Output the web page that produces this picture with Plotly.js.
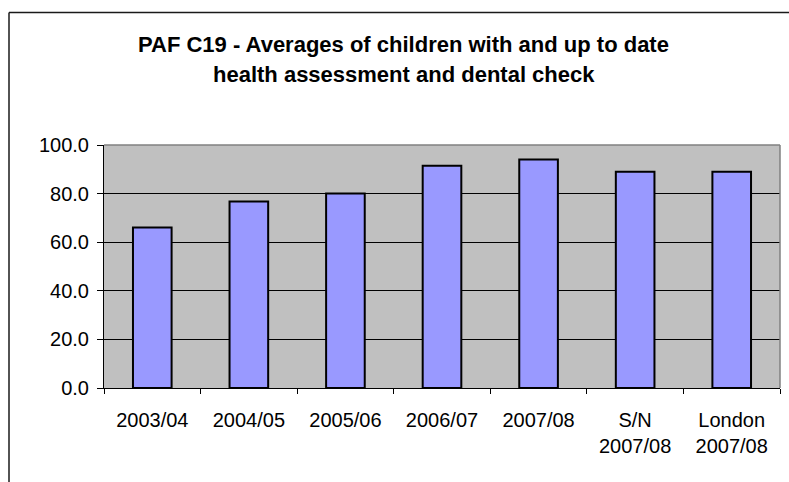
<!DOCTYPE html>
<html>
<head>
<meta charset="utf-8">
<script src="https://cdn.plot.ly/plotly-3.0.1.min.js"></script>
<style>html,body{margin:0;padding:0;background:#fff;}#chart{width:789px;height:482px;}</style>
</head>
<body>
<div id="chart"></div>
<script>
const categories = ["2003/04", "2004/05", "2005/06", "2006/07", "2007/08", "S/N<br>2007/08", "London<br>2007/08"];
const values = [66.0, 76.7, 80.0, 91.5, 94.0, 89.0, 89.0];
const yTickValues = [0, 20, 40, 60, 80, 100];
const yTickLabels = ["0.0", "20.0", "40.0", "60.0", "80.0", "100.0"];
const titleLines = ["PAF C19 - Averages of children with and up to date", "health assessment and dental check"];

const W = 789, H = 482;
const L = 104, R = 9, T = 145, B = 94;
const pw = W - L - R, ph = H - T - B;
const px = v => (v - L) / pw;
const py = v => (H - B - v) / ph;

const trace = {
  type: "bar",
  x: categories,
  y: values,
  width: 0.4,
  marker: {color: "#9999FF", line: {color: "#000000", width: 2}},
  hoverinfo: "none"
};

const layout = {
  width: W, height: H,
  margin: {l: L, r: R, t: T, b: B, pad: 0},
  paper_bgcolor: "#ffffff",
  plot_bgcolor: "#C0C0C0",
  showlegend: false,
  font: {family: "Liberation Sans, Arial, sans-serif", color: "#000000"},
  xaxis: {
    type: "category",
    tickson: "boundaries",
    ticks: "outside", ticklen: 5, tickcolor: "#000000", tickwidth: 1,
    showline: true, linecolor: "#000000", linewidth: 1,
    showgrid: false, zeroline: false,
    tickfont: {size: 20, color: "#000000"},
    ticklabelstandoff: 14,
    fixedrange: true
  },
  yaxis: {
    range: [0, 100],
    tickvals: yTickValues, ticktext: yTickLabels,
    ticks: "outside", ticklen: 6, tickcolor: "#000000", tickwidth: 1,
    showline: true, linecolor: "#000000", linewidth: 1,
    showgrid: true, gridcolor: "#000000", gridwidth: 1,
    zeroline: false,
    tickfont: {size: 20, color: "#000000"},
    ticklabelstandoff: 4,
    fixedrange: true
  },
  shapes: [
    {type: "line", xref: "paper", yref: "paper", x0: 1, x1: 1, y0: 0, y1: 1, line: {color: "#808080", width: 1.5}},
    {type: "line", xref: "paper", yref: "paper", x0: 0, x1: 1, y0: 1, y1: 1, line: {color: "#808080", width: 1.5}},
    {type: "line", xref: "paper", yref: "paper", x0: px(9), x1: px(800), y0: py(12.5), y1: py(12.5), line: {color: "#1a1a1a", width: 1.5}},
    {type: "line", xref: "paper", yref: "paper", x0: px(9), x1: px(9), y0: py(12.5), y1: py(500), line: {color: "#1a1a1a", width: 1.5}}
  ],
  annotations: [
    {text: "<b>" + titleLines[0] + "</b>", xref: "paper", yref: "paper", x: px(403.5), y: py(59.5), xanchor: "center", yanchor: "bottom", showarrow: false, font: {size: 22, color: "#000000"}},
    {text: "<b>" + titleLines[1] + "</b>", xref: "paper", yref: "paper", x: px(403.5), y: py(89), xanchor: "center", yanchor: "bottom", showarrow: false, font: {size: 22, color: "#000000"}}
  ]
};

Plotly.newPlot("chart", [trace], layout, {staticPlot: true, displayModeBar: false});
</script>
</body>
</html>
